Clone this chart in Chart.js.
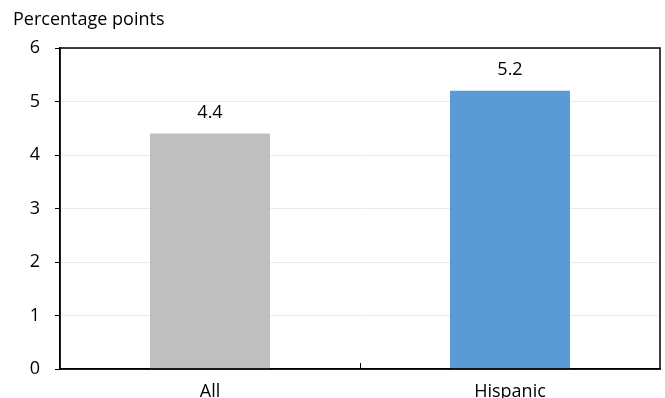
<!DOCTYPE html>
<html>
<head>
<meta charset="utf-8">
<script src="https://cdn.jsdelivr.net/npm/chart.js@4"></script>
<style>
  html, body { margin: 0; padding: 0; background: #fff; }
  #wrap { width: 665px; height: 398px; }
</style>
</head>
<body>
<div id="wrap"><canvas id="chart"></canvas></div>
<script>
// ====== DATA ======
const categories = ["All", "Hispanic"];
const values = [4.4, 5.2];
const barColors = ["#BFBFBF", "#5B9BD5"];
const yTicks = [0, 1, 2, 3, 4, 5, 6];
const unitLabel = "Percentage points";

const FONT = "'Open Sans', 'Noto Sans', sans-serif";

// ====== PLUGINS ======
const frame = {
  id: "frame",
  afterDraw(chart) {
    const { ctx, chartArea: a, scales } = chart;
    ctx.save();
    ctx.strokeStyle = "#000";
    ctx.lineWidth = 1.5;
    ctx.strokeRect(a.left, a.top, a.right - a.left, a.bottom - a.top);

    // tick between categories, pointing inward
    const x = scales.x;
    for (let i = 0; i < categories.length - 1; i++) {
      const px = (x.getPixelForValue(i) + x.getPixelForValue(i + 1)) / 2;
      ctx.beginPath();
      ctx.lineWidth = 1;
      ctx.moveTo(Math.round(px) + 0.5, a.bottom);
      ctx.lineTo(Math.round(px) + 0.5, a.bottom - 6);
      ctx.stroke();
    }

    // unit label
    ctx.fillStyle = "#000";
    ctx.font = "18px " + FONT;
    ctx.textAlign = "left";
    ctx.textBaseline = "middle";
    ctx.fillText(unitLabel, 13, 20);

    // value labels
    ctx.font = "18px " + FONT;
    ctx.textAlign = "center";
    ctx.textBaseline = "middle";
    chart.getDatasetMeta(0).data.forEach((bar, i) => {
      ctx.fillText(values[i].toFixed(1), bar.x, bar.y - 21);
    });
    ctx.restore();
  }
};

// ====== CHART ======
new Chart(document.getElementById("chart"), {
  type: "bar",
  data: {
    labels: categories,
    datasets: [{
      data: values,
      backgroundColor: barColors,
      barPercentage: 0.4,
      categoryPercentage: 1
    }]
  },
  options: {
    responsive: true,
    maintainAspectRatio: false,
    animation: false,
    layout: { padding: { top: 48, right: 5, left: 0, bottom: 0 } },
    plugins: {
      legend: { display: false },
      tooltip: { enabled: false }
    },
    scales: {
      x: {
        afterFit(s) { s.height = 29; },
        grid: { display: false },
        border: { color: "#000", width: 1.5 },
        ticks: { color: "#000", font: { family: FONT, size: 18 }, padding: 4 }
      },
      y: {
        min: 0,
        max: 6,
        afterFit(s) { s.width = 60; },
        afterBuildTicks(s) { s.ticks = yTicks.map(v => ({ value: v })); },
        grid: {
          color: "#EBEBEB",
          tickColor: "#000",
          tickLength: 5,
          drawTicks: true
        },
        border: { color: "#000", width: 1.5 },
        ticks: { color: "#000", font: { family: FONT, size: 18 }, padding: 15 }
      }
    }
  },
  plugins: [frame]
});
</script>
</body>
</html>
